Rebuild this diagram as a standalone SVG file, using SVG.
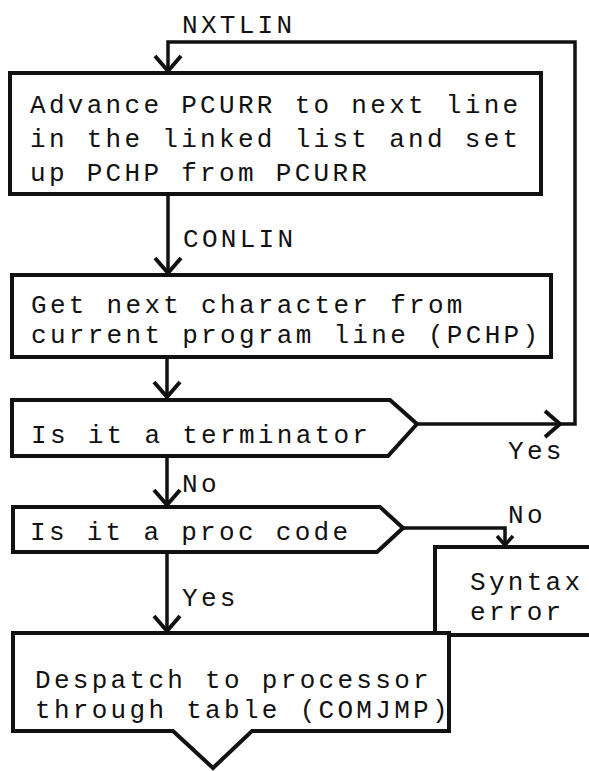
<svg xmlns="http://www.w3.org/2000/svg" width="589" height="771" viewBox="0 0 589 771">
<defs>
<style>
.box{fill:#fff;stroke:#111;stroke-width:4;stroke-linejoin:miter}
.con{fill:none;stroke:#111;stroke-width:3.5}
.t{font-family:"Liberation Mono","DejaVu Sans Mono",monospace;font-size:26px;letter-spacing:3.3px;fill:#111}
</style>
<marker id="v" markerUnits="userSpaceOnUse" orient="auto" markerWidth="40" markerHeight="40" refX="0" refY="0" viewBox="-20 -20 40 40" overflow="visible">
<path d="M-15,-13 L0,0 L-15,13" fill="none" stroke="#111" stroke-width="4"/>
</marker>
<marker id="vs" markerUnits="userSpaceOnUse" orient="auto" markerWidth="30" markerHeight="30" refX="0" refY="0" viewBox="-15 -15 30 30" overflow="visible">
<path d="M-9,-8 L0,0 L-9,8" fill="none" stroke="#111" stroke-width="3.5"/>
</marker>
</defs>
<rect width="589" height="771" fill="#fff"/>
<g id="connectors">
<path class="con" d="M168,194 V273" marker-end="url(#v)"/>
<path class="con" d="M167,357 V397" marker-end="url(#v)"/>
<path class="con" d="M167,456 V505" marker-end="url(#v)"/>
<path class="con" d="M167,552 V631" marker-end="url(#v)"/>
<path class="con" d="M417,424 H560" marker-end="url(#v)"/>
<path class="con" d="M558,424 H575 V42 H168 V71" marker-end="url(#v)"/>
<path class="con" d="M403,528 H505 V545" marker-end="url(#vs)"/>
<text class="t" x="182" y="33">NXTLIN</text>
<text class="t" x="183" y="247">CONLIN</text>
<text class="t" x="508" y="459">Yes</text>
<text class="t" x="182" y="492">No</text>
<text class="t" x="508" y="523">No</text>
<text class="t" x="182" y="606">Yes</text>
</g>
<g id="nxtlin">
<rect class="box" x="10" y="73" width="531" height="121"/>
<text class="t" x="30" y="113">Advance PCURR to next line</text>
<text class="t" x="30" y="147">in the linked list and set</text>
<text class="t" x="30" y="181">up PCHP from PCURR</text>
</g>
<g id="conlin">
<rect class="box" x="12" y="275" width="539" height="82"/>
<text class="t" x="31" y="313">Get next character from</text>
<text class="t" x="31" y="343">current program line (PCHP)</text>
</g>
<g id="terminator">
<path class="box" d="M12,400 H390 L417,424 L388,456 H12 Z"/>
<text class="t" x="31" y="443">Is it a terminator</text>
</g>
<g id="proccode">
<path class="box" d="M13,507 H380 L403,528 L377,552 H13 Z"/>
<text class="t" x="30" y="540">Is it a proc code</text>
</g>
<g id="syntax">
<rect class="box" x="435" y="547" width="170" height="88"/>
<text class="t" x="470" y="590">Syntax</text>
<text class="t" x="470" y="620">error</text>
</g>
<g id="despatch">
<path class="box" d="M13,633 H449 V731 H252 L213,768 L173,731 H13 Z"/>
<text class="t" x="35" y="688">Despatch to processor</text>
<text class="t" x="35" y="718">through table (COMJMP)</text>
</g>
</svg>
